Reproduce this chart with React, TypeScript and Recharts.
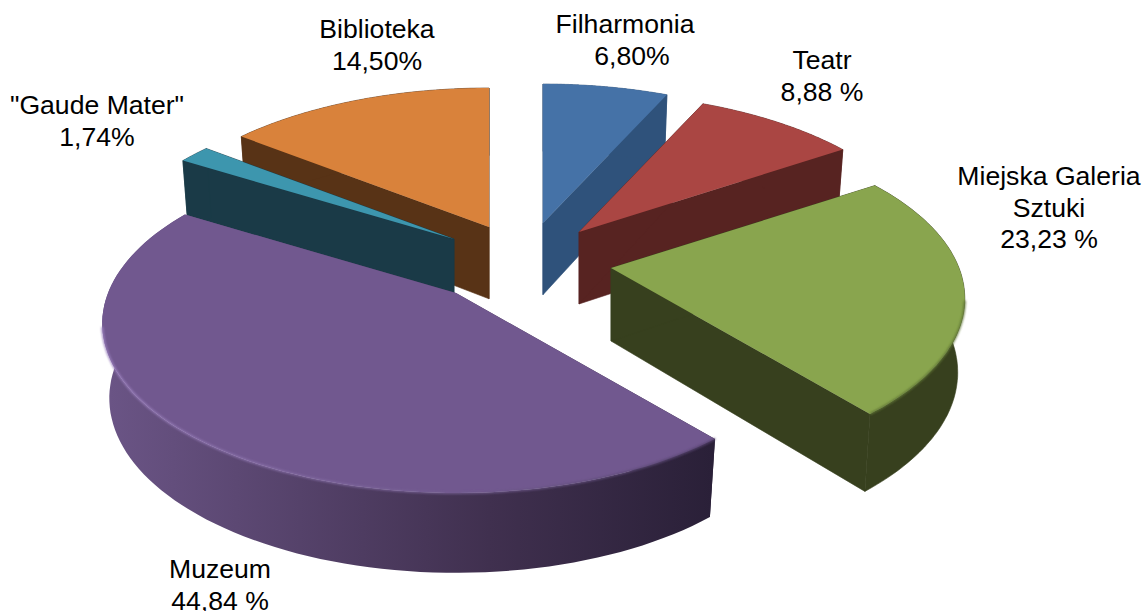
import { PieChart, Pie } from 'recharts';

const categories = ['Filharmonia', 'Teatr', 'Miejska Galeria Sztuki', 'Muzeum', '"Gaude Mater"', 'Biblioteka'];
const shares = [6.8, 8.88, 23.23, 44.84, 1.74, 14.5];
const labelLines = [
  ['Filharmonia', '6,80%'],
  ['Teatr', '8,88 %'],
  ['Miejska Galeria', 'Sztuki', '23,23 %'],
  ['Muzeum', '44,84 %'],
  ['"Gaude Mater"', '1,74%'],
  ['Biblioteka', '14,50%'],
];

// Styling per category
const topColors = ['#4572A7', '#AA4643', '#89A54E', '#71588F', '#3D96AE', '#D9823B'];
const wallStops = [
  ['#2f527b', '#2f527b', '#2f527b'],
  ['#572321', '#572321', '#572321'],
  ['#37401e', '#37401e', '#37401e'],
  ['#6a5485', '#40304f', '#2a2038'],
  ['#1a3a47', '#1a3a47', '#1a3a47'],
  ['#583316', '#583316', '#583316'],
];
const rimStops = [
  ['none', 'none'],
  ['none', 'none'],
  ['#5f7434', '#5f7434'],
  ['#9a7fbd', '#54426c'],
  ['none', 'none'],
  ['none', 'none'],
];
// how far each slice is pulled out of the pie centre, in pixels
const pullX = [25, 61, 93, -62, -64, -29];
const pullY = [-36, -27, 9, 34, -20, -32];
// label anchor: centre x, first baseline y, and a nudge of the second line
const labelX = [625, 822, 1049, 220, 97, 377];
const labelY = [33, 69, 185, 578, 114, 38];
const labelNudge = [7, 0, 0, 0, 0, 0];

const WIDTH = 1145;
const HEIGHT = 611;
const CX = 518;
const CY = 259;
const FX = 348;
const FY = 164;
const PERSP = 0.18;

const rows = categories.map((name, i) => ({ name, value: shares[i] }));
const backRows = rows;
const frontRows = [...rows].reverse();

// point on the top of a slice, u/v are in radius units from its apex
function topPoint(i: number, u: number, v: number) {
  const w = 1 - PERSP * v;
  return [CX + pullX[i] + (FX * u) / w, CY + pullY[i] + (FY * v) / w];
}

// same point on the underside: a bit narrower, and lower the nearer it is
function lowPoint(i: number, u: number, v: number) {
  const [x, y] = topPoint(i, u, v);
  const apexX = CX + pullX[i];
  return [apexX + (x - apexX) * 0.98, y + 71 + 0.03 * (y - 200)];
}

function pathOf(points: number[][], close = true) {
  return points.map((p, i) => `${i ? 'L' : 'M'}${p[0].toFixed(1)} ${p[1].toFixed(1)}`).join(' ') + (close ? ' Z' : '');
}

function Slice(props: any) {
  const i = categories.indexOf(props.name);
  const a0 = (Math.min(props.startAngle, props.endAngle) * Math.PI) / 180;
  const a1 = (Math.max(props.startAngle, props.endAngle) * Math.PI) / 180;
  const rim: number[][] = [];
  for (let k = 0; k <= 90; k++) {
    const a = a0 + ((a1 - a0) * k) / 90;
    rim.push([Math.cos(a), -Math.sin(a)]);
  }
  const top = [topPoint(i, 0, 0), ...rim.map((p) => topPoint(i, p[0], p[1]))];
  const wall = [
    ...rim.map((p) => topPoint(i, p[0], p[1])),
    ...[...rim].reverse().map((p) => lowPoint(i, p[0], p[1])),
  ];
  const face = (p: number[]) => [topPoint(i, 0, 0), topPoint(i, p[0], p[1]), lowPoint(i, p[0], p[1]), lowPoint(i, 0, 0)];
  const front = rim.filter((p) => p[1] > 0.18).map((p) => topPoint(i, p[0], p[1]));
  const wallFill = `wall-${i}`;
  const wallStroke = wallStops[i][0] === wallStops[i][2] ? wallStops[i][0] : 'none';
  return (
    <g>
      <defs>
        <linearGradient id={wallFill} gradientUnits="userSpaceOnUse" x1={110} x2={712} y1={0} y2={0}>
          <stop offset="0" stopColor={wallStops[i][0]} />
          <stop offset="0.63" stopColor={wallStops[i][1]} />
          <stop offset="1" stopColor={wallStops[i][2]} />
        </linearGradient>
        <linearGradient id={`rim-${i}`} gradientUnits="userSpaceOnUse" x1={110} x2={712} y1={0} y2={0}>
          <stop offset="0" stopColor={rimStops[i][0]} />
          <stop offset="1" stopColor={rimStops[i][1]} />
        </linearGradient>
        <filter id={`soft-${i}`} x="-5%" y="-5%" width="110%" height="110%">
          <feGaussianBlur stdDeviation="0.8" />
        </filter>
      </defs>
      <path d={pathOf(face(rim[0]))} fill={`url(#${wallFill})`} stroke={wallStroke} strokeWidth={0.6} />
      <path d={pathOf(face(rim[rim.length - 1]))} fill={`url(#${wallFill})`} stroke={wallStroke} strokeWidth={0.6} />
      <path d={pathOf(wall)} fill={`url(#${wallFill})`} stroke={wallStroke} strokeWidth={0.6} />
      <path d={pathOf(top)} fill={topColors[i]} />
      {rimStops[i][0] !== 'none' && (
        <path
          d={pathOf(front, false)}
          fill="none"
          stroke={`url(#rim-${i})`}
          strokeWidth={2}
          filter={`url(#soft-${i})`}
        />
      )}
    </g>
  );
}

function Label(props: any) {
  const i = categories.indexOf(props.name);
  return (
    <text
      x={labelX[i]}
      y={labelY[i]}
      textAnchor="middle"
      fill="#000"
      style={{ fontFamily: '"Liberation Sans", Arial, sans-serif', fontSize: 26.6 }}
    >
      {labelLines[i].map((line, k) => (
        <tspan key={k} x={labelX[i] + (k === 1 ? labelNudge[i] : 0)} dy={k ? 31.5 : 0}>
          {line}
        </tspan>
      ))}
    </text>
  );
}

// Each pie paints only its first three slices so the front ones overlap correctly
const backNames = categories.slice(0, 3);
const frontNames = categories.slice(3);
const only = (names: string[], C: any) => (p: any) => (names.includes(p.name) ? <C {...p} /> : <g />);

export default function App() {
  return (
    <div style={{ position: 'absolute', left: 0, top: 0, width: WIDTH, height: HEIGHT, overflow: 'hidden', background: '#fff' }}>
      <PieChart width={WIDTH} height={HEIGHT} margin={{ top: 0, right: 0, bottom: 0, left: 0 }}>
        <Pie
          data={backRows}
          dataKey="value"
          nameKey="name"
          cx={CX}
          cy={CY}
          outerRadius={FX}
          startAngle={90}
          endAngle={-270}
          stroke="none"
          isAnimationActive={false}
          shape={only(backNames, Slice)}
          label={only(backNames, Label)}
          labelLine={false}
        />
        <Pie
          data={frontRows}
          dataKey="value"
          nameKey="name"
          cx={CX}
          cy={CY}
          outerRadius={FX}
          startAngle={90}
          endAngle={450}
          stroke="none"
          isAnimationActive={false}
          shape={only(frontNames, Slice)}
          label={only(frontNames, Label)}
          labelLine={false}
        />
      </PieChart>
    </div>
  );
}
